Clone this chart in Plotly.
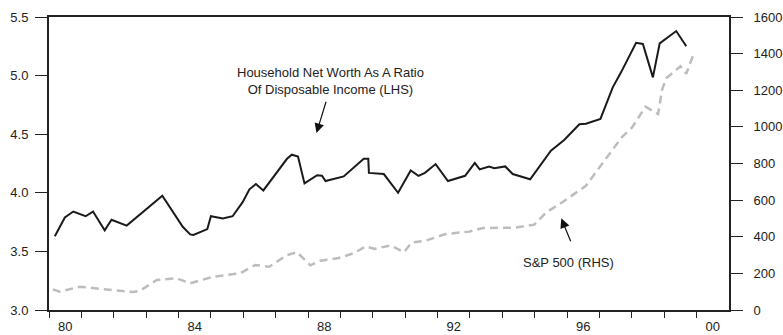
import plotly.graph_objects as go

# Household net worth / disposable income (LHS)
nw_x = [1980.18, 1980.49, 1980.75, 1981.13, 1981.36, 1981.72, 1981.93, 1982.40, 1983.50,
        1984.13, 1984.36, 1984.46, 1984.89, 1985.00, 1985.37, 1985.67, 1985.98, 1986.19,
        1986.39, 1986.62, 1987.35, 1987.50, 1987.69, 1987.89, 1988.28, 1988.43, 1988.54,
        1989.10, 1989.72, 1989.86, 1989.88, 1990.34, 1990.78, 1991.17, 1991.41, 1991.61,
        1991.94, 1992.32, 1992.85, 1993.15, 1993.30, 1993.59, 1993.75, 1994.09, 1994.32,
        1994.86, 1995.50, 1995.91, 1996.38, 1996.58, 1997.03, 1997.41, 1997.67, 1998.13,
        1998.34, 1998.65, 1998.86, 1999.37, 1999.68]
nw_y = [3.63, 3.79, 3.84, 3.80, 3.84, 3.68, 3.77, 3.72, 3.975,
        3.71, 3.645, 3.64, 3.69, 3.80, 3.78, 3.80, 3.92, 4.03,
        4.075, 4.02, 4.29, 4.325, 4.31, 4.08, 4.15, 4.145, 4.10,
        4.14, 4.29, 4.29, 4.17, 4.16, 4.00, 4.19, 4.145, 4.17,
        4.245, 4.10, 4.145, 4.255, 4.20, 4.225, 4.21, 4.225, 4.16,
        4.115, 4.36, 4.45, 4.585, 4.59, 4.63, 4.90, 5.03, 5.28,
        5.27, 4.985, 5.275, 5.38, 5.25]

# S&P 500 (RHS)
sp_x = [1980.12, 1980.33, 1980.95, 1981.57, 1982.19, 1982.60, 1982.81, 1983.33, 1983.95,
        1984.36, 1985.08, 1985.90, 1986.37, 1986.80, 1987.35, 1987.66, 1988.07, 1988.38,
        1988.95, 1989.41, 1989.78, 1990.06, 1990.55, 1990.96, 1991.20, 1991.63, 1992.25,
        1992.98, 1993.40, 1994.36, 1994.99, 1995.35, 1995.84, 1996.58, 1996.95, 1997.30,
        1997.70, 1998.00, 1998.42, 1998.81, 1998.93, 1999.06, 1999.50, 1999.68, 1999.92]
sp_y = [113, 100, 127, 118, 105, 98, 105, 164, 173,
        146, 182, 200, 246, 236, 300, 316, 244, 269,
        284, 310, 347, 334, 353, 315, 368, 378, 415,
        428, 448, 449, 466, 532, 587, 678, 765, 850,
        946, 995, 1110, 1070, 1201, 1265, 1331, 1290, 1405]

year_ticks = list(range(1980, 2001))
label_pos = [1980.5, 1984.5, 1988.5, 1992.5, 1996.5, 2000.5]
label_text = ["80", "84", "88", "92", "96", "00"]
lhs_ticks = [3.0, 3.5, 4.0, 4.5, 5.0, 5.5]
rhs_ticks = [0, 200, 400, 600, 800, 1000, 1200, 1400, 1600]

FONT = "Liberation Sans, Arial, sans-serif"
DARK = "#222222"

fig = go.Figure()
fig.add_trace(go.Scatter(x=sp_x, y=sp_y, xaxis="x2", yaxis="y2", mode="lines",
                         line=dict(color="#bdbdbd", width=2.5, dash="8px,5px"),
                         showlegend=False, hoverinfo="skip"))
fig.add_trace(go.Scatter(x=nw_x, y=nw_y, xaxis="x", yaxis="y", mode="lines",
                         line=dict(color="#1a1a1a", width=2),
                         showlegend=False, hoverinfo="skip"))

fig.update_layout(
    width=783, height=335,
    margin=dict(l=49, r=54, t=17, b=25),
    paper_bgcolor="white", plot_bgcolor="white",
    font=dict(family=FONT, size=13, color=DARK),
    xaxis=dict(range=[1980, 2001], showline=True, linecolor=DARK, linewidth=2, mirror=True,
               ticks="outside", tickvals=year_ticks, ticklen=6, tickwidth=1.2, tickcolor=DARK,
               showticklabels=False, showgrid=False, zeroline=False, automargin=False),
    xaxis2=dict(range=[1980, 2001], overlaying="x", anchor="y", side="bottom",
                ticks="outside", tickvals=label_pos, ticktext=label_text, ticklen=2,
                tickcolor="rgba(0,0,0,0)", showline=False, showgrid=False, zeroline=False,
                tickfont=dict(size=13, color=DARK), ticklabelstandoff=2, automargin=False),
    yaxis=dict(range=[3.0, 5.5], tickvals=lhs_ticks, tickformat=".1f", showline=True,
               linecolor=DARK, linewidth=2, ticks="outside", ticklen=12, tickwidth=1,
               tickcolor=DARK, showgrid=False, zeroline=False,
               tickfont=dict(size=13, color=DARK), ticklabelstandoff=4, automargin=False),
    yaxis2=dict(range=[0, 1600], tickvals=rhs_ticks, overlaying="y", anchor="x", side="right",
                showline=True, linecolor=DARK, linewidth=2, ticks="outside", ticklen=12,
                tickwidth=1, tickcolor=DARK, showgrid=False, zeroline=False,
                tickfont=dict(size=13, color=DARK), ticklabelstandoff=8, automargin=False),
)

fig.add_annotation(x=1988.68, y=4.953, xref="x", yref="y",
                   text="Household Net Worth As A Ratio<br>Of Disposable Income (LHS)",
                   showarrow=False, font=dict(size=13, color=DARK))
fig.add_annotation(x=1988.26, y=4.51, ax=1988.57, ay=4.79, xref="x", yref="y",
                   axref="x", ayref="y", text="", showarrow=True, arrowhead=2,
                   arrowsize=1.6, arrowwidth=1.2, arrowcolor="#111111")
fig.add_annotation(x=1996.05, y=3.405, xref="x", yref="y", text="S&P 500 (RHS)",
                   showarrow=False, font=dict(size=13, color=DARK))
fig.add_annotation(x=1995.82, y=3.782, ax=1996.13, ay=3.574, xref="x", yref="y",
                   axref="x", ayref="y", text="", showarrow=True, arrowhead=2,
                   arrowsize=1.6, arrowwidth=1.2, arrowcolor="#111111")

fig.write_html("out.html",
               config={"displayModeBar": False},
               post_script="document.body.style.margin='0px';"
                           "document.body.style.overflow='hidden';"
                           "document.documentElement.style.overflow='hidden';")
